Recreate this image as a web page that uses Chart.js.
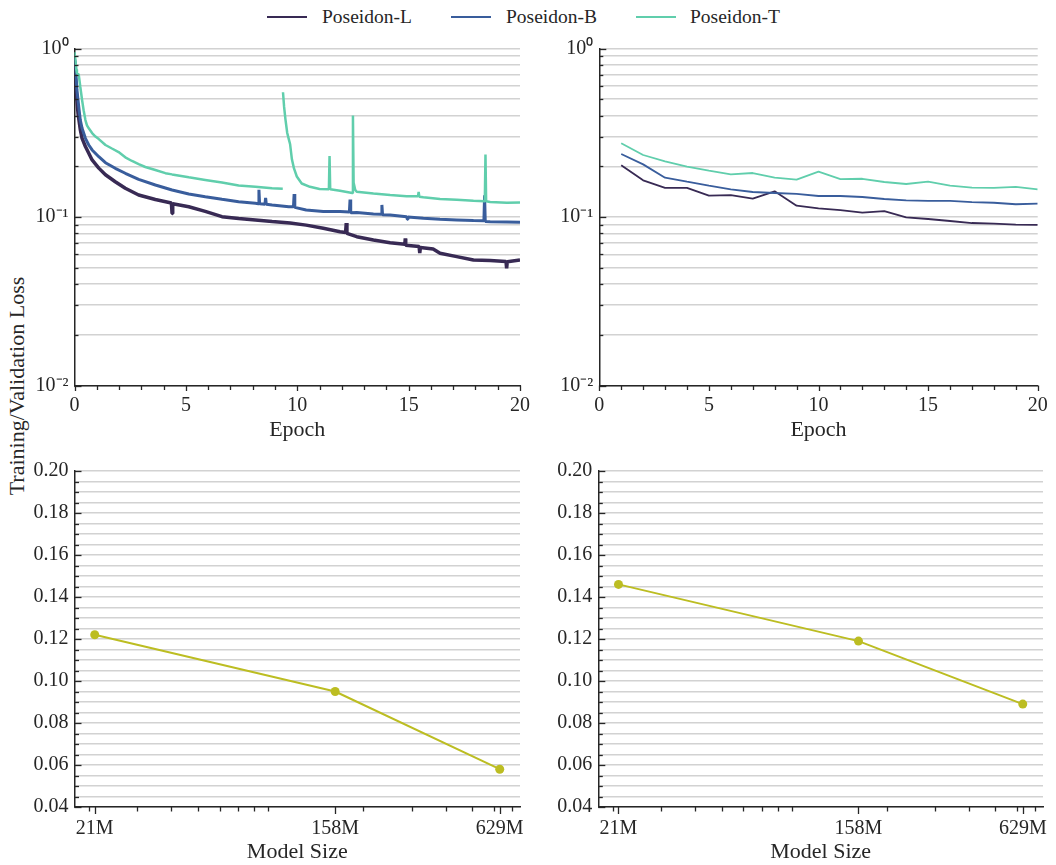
<!DOCTYPE html>
<html>
<head>
<meta charset="utf-8">
<script src="https://cdn.jsdelivr.net/npm/chart.js@4.4.1/dist/chart.umd.min.js"></script>
<style>
  html, body { margin:0; padding:0; background:#fff; }
  body { width:1056px; height:865px; position:relative; overflow:hidden;
         font-family:'Liberation Serif','Times New Roman',serif; color:#262626; }
  .box { position:absolute; }
  .sw { position:absolute; top:16px; height:2px; width:40px; }
  .lt { position:absolute; top:5px; font-size:19.5px; line-height:24px; white-space:nowrap; }
  #ylab { position:absolute; left:17px; top:386px; transform:translate(-50%,-50%) rotate(-90deg);
          font-size:22px; line-height:26px; white-space:nowrap; }
</style>
</head>
<body>
<div class="sw" style="left:267px;background:#382A54"></div><div class="lt" style="left:322px">Poseidon-L</div>
<div class="sw" style="left:451px;background:#395D9C"></div><div class="lt" style="left:506px">Poseidon-B</div>
<div class="sw" style="left:636px;background:#60CEAC"></div><div class="lt" style="left:690px">Poseidon-T</div>
<div id="ylab">Training/Validation Loss</div>

<div class="box" style="left:0;top:30px"><canvas id="c1" width="540" height="420" style="width:540px;height:420px"></canvas></div>
<div class="box" style="left:540px;top:30px"><canvas id="c2" width="516" height="420" style="width:516px;height:420px"></canvas></div>
<div class="box" style="left:0;top:450px"><canvas id="c3" width="540" height="415" style="width:540px;height:415px"></canvas></div>
<div class="box" style="left:540px;top:450px"><canvas id="c4" width="516" height="415" style="width:516px;height:415px"></canvas></div>

<script>
// ---------------- DATA ----------------
const seriesNames = ['Poseidon-L', 'Poseidon-B', 'Poseidon-T'];
const seriesColors = ['#382A54', '#395D9C', '#60CEAC'];

// Training loss (top-left), epoch positions and values
const trainEpochsL = [0, 0.07, 0.16, 0.26, 0.34, 0.49, 0.64, 0.79, 1.09, 1.39, 1.83, 2.28, 2.88, 3.63, 4.35, 4.38, 4.41, 5.13, 5.87, 6.62, 7.37, 8.12, 8.87, 9.68, 10.4, 11.17, 11.92, 12.17, 12.2, 12.23, 12.67, 13.42, 14.17, 14.83, 14.85, 14.87, 15.47, 15.5, 15.53, 16.1, 16.41, 17.16, 17.91, 18.66, 19.37, 19.4, 19.43, 20];
const trainLossL   = [0.78, 0.57, 0.41, 0.33, 0.293, 0.262, 0.239, 0.218, 0.195, 0.178, 0.162, 0.148, 0.135, 0.127, 0.121, 0.105, 0.12, 0.115, 0.108, 0.1004, 0.098, 0.096, 0.094, 0.092, 0.0895, 0.0857, 0.0818, 0.081, 0.092, 0.080, 0.0764, 0.073, 0.0704, 0.069, 0.0746, 0.068, 0.0668, 0.061, 0.066, 0.0645, 0.0609, 0.0582, 0.0556, 0.0551, 0.0545, 0.0496, 0.0543, 0.0556];

const trainEpochsB = [0, 0.04, 0.11, 0.19, 0.26, 0.34, 0.49, 0.64, 0.79, 1.09, 1.39, 1.83, 2.28, 2.88, 3.63, 4.38, 5.13, 5.87, 6.62, 7.37, 8.12, 8.25, 8.28, 8.31, 8.55, 8.58, 8.61, 8.87, 9.62, 9.83, 9.86, 9.89, 10.4, 11.17, 11.92, 12.34, 12.37, 12.4, 12.67, 13.42, 13.77, 13.8, 13.83, 14.17, 14.91, 14.94, 14.97, 15.66, 16.41, 17.16, 17.91, 18.38, 18.41, 18.44, 18.66, 19.41, 20];
const trainLossB   = [0.87, 0.817, 0.567, 0.452, 0.376, 0.336, 0.293, 0.2675, 0.25, 0.228, 0.21, 0.1945, 0.1818, 0.1674, 0.1549, 0.1446, 0.137, 0.132, 0.1273, 0.1233, 0.1206, 0.12, 0.145, 0.12, 0.119, 0.13, 0.119, 0.1178, 0.115, 0.115, 0.137, 0.114, 0.11, 0.1078, 0.1078, 0.107, 0.127, 0.106, 0.1062, 0.1042, 0.104, 0.118, 0.103, 0.1029, 0.1004, 0.097, 0.1, 0.0982, 0.0969, 0.0961, 0.0952, 0.095, 0.1345, 0.094, 0.0938, 0.0934, 0.093];

const trainEpochsT = [0, 0.04, 0.08, 0.11, 0.19, 0.26, 0.34, 0.41, 0.49, 0.56, 0.64, 0.79, 0.94, 1.09, 1.39, 1.68, 1.98, 2.28, 2.58, 2.88, 3.18, 3.63, 4.08, 4.38, 5.13, 5.87, 6.62, 7.37, 8.12, 8.87, 9.35, 9.355, 9.36, 9.41, 9.47, 9.55, 9.62, 9.68, 9.76, 9.85, 9.98, 10.2, 10.57, 11.0, 11.42, 11.45, 11.48, 11.92, 12.47, 12.5, 12.53, 12.6, 12.67, 13.42, 14.17, 14.91, 15.42, 15.45, 15.48, 15.66, 16.41, 17.16, 17.91, 18.42, 18.45, 18.48, 18.66, 19.41, 20];
const trainLossT   = [0.95, 0.855, 0.75, 0.713, 0.70, 0.593, 0.495, 0.43, 0.376, 0.35, 0.336, 0.315, 0.300, 0.29, 0.2675, 0.255, 0.243, 0.226, 0.215, 0.206, 0.198, 0.190, 0.182, 0.179, 0.172, 0.166, 0.160, 0.154, 0.151, 0.148, 0.147, null, 0.55, 0.45, 0.38, 0.315, 0.29, 0.27, 0.22, 0.195, 0.174, 0.158, 0.151, 0.1466, 0.146, 0.23, 0.146, 0.1432, 0.139, 0.40, 0.16, 0.145, 0.1413, 0.138, 0.135, 0.133, 0.133, 0.141, 0.132, 0.131, 0.128, 0.1266, 0.125, 0.124, 0.235, 0.124, 0.1227, 0.1214, 0.122];

// Validation loss (top-right)
const valEpochs = [1, 2, 3, 4, 5, 6, 7, 8, 9, 10, 11, 12, 13, 14, 15, 16, 17, 18, 19, 20];
const valLossL = [0.2025, 0.165, 0.1488, 0.1488, 0.1338, 0.135, 0.1285, 0.142, 0.1168, 0.1125, 0.110, 0.1062, 0.1085, 0.0996, 0.0973, 0.0947, 0.0921, 0.0914, 0.090, 0.0897];
const valLossB = [0.2365, 0.2053, 0.1712, 0.162, 0.1535, 0.146, 0.1407, 0.1388, 0.137, 0.1332, 0.1332, 0.1314, 0.1279, 0.1256, 0.1245, 0.1245, 0.1227, 0.1215, 0.119, 0.1201];
const valLossT = [0.2737, 0.2333, 0.214, 0.199, 0.1884, 0.179, 0.1824, 0.1712, 0.1665, 0.1858, 0.168, 0.1686, 0.1613, 0.157, 0.162, 0.1535, 0.1493, 0.1488, 0.1508, 0.146];

// Final loss vs model size (bottom)
const modelSizes = [21, 158, 629];
const finalTrainLoss = [0.122, 0.095, 0.058];
const finalValLoss = [0.146, 0.119, 0.089];
const scalingColor = '#BCBD22';

// Tick lists and tick labels
const logLossTicks = [0.01, 0.02, 0.03, 0.04, 0.05, 0.06, 0.07, 0.08, 0.09, 0.1, 0.2, 0.3, 0.4, 0.5, 0.6, 0.7, 0.8, 0.9, 1];
const logLossTickLabels = ['10\u207B\u00B2', '', '', '', '', '', '', '', '', '10\u207B\u00B9', '', '', '', '', '', '', '', '', '10\u2070'];
const epochTicks = [0, 1, 2, 3, 4, 5, 6, 7, 8, 9, 10, 11, 12, 13, 14, 15, 16, 17, 18, 19, 20];
const epochTickLabels = ['0', '', '', '', '', '5', '', '', '', '', '10', '', '', '', '', '15', '', '', '', '', '20'];
const sizeTicks = [20, 21, 30, 40, 50, 60, 70, 80, 90, 158, 200, 300, 400, 500, 600, 629, 700];
const sizeTickLabels = ['', '21M', '', '', '', '', '', '', '', '158M', '', '', '', '', '', '629M', ''];
const lossTicks = [0.04, 0.045, 0.05, 0.055, 0.06, 0.065, 0.07, 0.075, 0.08, 0.085, 0.09, 0.095, 0.1, 0.105, 0.11, 0.115, 0.12, 0.125, 0.13, 0.135, 0.14, 0.145, 0.15, 0.155, 0.16, 0.165, 0.17, 0.175, 0.18, 0.185, 0.19, 0.195, 0.2];
const lossTickLabels = ['0.04', '', '', '', '0.06', '', '', '', '0.08', '', '', '', '0.10', '', '', '', '0.12', '', '', '', '0.14', '', '', '', '0.16', '', '', '', '0.18', '', '', '', '0.20'];

// ---------------- STYLE / HELPERS ----------------
const FONT = "'Liberation Serif', 'Times New Roman', serif";
const TEXT = '#262626';
const GRID = '#d2d2d2';
Chart.defaults.font.family = FONT;
Chart.defaults.color = TEXT;

const pts = (xs, ys) => xs.map((x, i) => ({ x: x, y: ys[i] }));

const tickMarks = {
  id: 'tickMarks',
  afterDraw(chart, args, o) {
    const ctx = chart.ctx, xs = chart.scales.x, ys = chart.scales.y, a = chart.chartArea;
    ctx.save();
    ctx.strokeStyle = TEXT; ctx.lineWidth = 1.3;
    ys.ticks.forEach((t, i) => {
      const p = Math.round(ys.getPixelForValue(t.value)) + 0.5;
      const len = o.yLabels[i] ? o.yMajor : o.yMinor;
      ctx.beginPath(); ctx.moveTo(a.left, p); ctx.lineTo(a.left + len, p); ctx.stroke();
    });
    xs.ticks.forEach((t, i) => {
      const p = Math.round(xs.getPixelForValue(t.value)) + 0.5;
      const len = o.xLabels[i] ? o.xMajor : o.xMinor;
      ctx.beginPath(); ctx.moveTo(p, a.bottom); ctx.lineTo(p, a.bottom + len); ctx.stroke();
    });
    ctx.restore();
  }
};

function makeChart(id, g, datasets, xScale, yScale, marks) {
  return new Chart(document.getElementById(id), {
    type: 'line',
    data: { datasets: datasets },
    plugins: [tickMarks],
    options: {
      responsive: false, animation: false, events: [],
      layout: { padding: { top: g.padTop, right: g.padRight, bottom: 0, left: 0 } },
      elements: { line: { borderJoinStyle: 'bevel', tension: 0 } },
      plugins: { legend: { display: false }, tooltip: { enabled: false }, tickMarks: marks },
      scales: {
        x: Object.assign({
          position: 'bottom',
          grid: { display: false, drawTicks: false },
          border: { display: true, color: TEXT, width: 1.5 },
          afterFit: s => { s.height = g.xHeight; }
        }, xScale),
        y: Object.assign({
          position: 'left',
          grid: { display: true, color: GRID, lineWidth: 1.5, drawTicks: false },
          border: { display: true, color: TEXT, width: 1.5 },
          afterFit: s => { s.width = g.yWidth; }
        }, yScale)
      }
    }
  });
}

const tickFont = { family: FONT, size: 20 };
const titleFont = { family: FONT, size: 22 };

function logYAxis() {
  return {
    type: 'logarithmic', min: 0.01, max: 1,
    afterBuildTicks: s => { s.ticks = logLossTicks.map(v => ({ value: v })); },
    ticks: { autoSkip: false, padding: 6, font: tickFont, color: TEXT,
             callback: (v, i) => logLossTickLabels[i] }
  };
}
function epochXAxis() {
  return {
    type: 'linear', min: 0, max: 20,
    afterBuildTicks: s => { s.ticks = epochTicks.map(v => ({ value: v })); },
    ticks: { autoSkip: false, maxRotation: 0, minRotation: 0, padding: 8.3, font: tickFont, color: TEXT,
             callback: (v, i) => epochTickLabels[i] },
    title: { display: true, text: 'Epoch', font: titleFont, color: TEXT, padding: { top: 0, bottom: 6.3 } }
  };
}
function lossYAxis() {
  return {
    type: 'linear', min: 0.04, max: 0.2,
    afterBuildTicks: s => { s.ticks = lossTicks.map(v => ({ value: v })); },
    ticks: { autoSkip: false, padding: 6, font: tickFont, color: TEXT,
             callback: (v, i) => lossTickLabels[i] }
  };
}
function sizeXAxis() {
  return {
    type: 'logarithmic', min: 17.72, max: 745.6,
    afterBuildTicks: s => { s.ticks = sizeTicks.map(v => ({ value: v })); },
    ticks: { autoSkip: false, maxRotation: 0, minRotation: 0, padding: 9.5, font: tickFont, color: TEXT,
             callback: (v, i) => sizeTickLabels[i] },
    title: { display: true, text: 'Model Size', font: titleFont, color: TEXT, padding: { top: 0, bottom: 0 } }
  };
}

const topMarks = { yLabels: logLossTickLabels, xLabels: epochTickLabels, yMajor: 7, yMinor: 4, xMajor: 5.5, xMinor: 4.5 };
const botMarks = { yLabels: lossTickLabels, xLabels: sizeTickLabels, yMajor: 7, yMinor: 4.5, xMajor: 7, xMinor: 4.5 };

// ---------------- CHARTS ----------------
// Top-left: training loss
makeChart('c1', { padTop: 18.5, padRight: 20, xHeight: 64.5, yWidth: 74.5 }, [
  { label: seriesNames[2], data: pts(trainEpochsT, trainLossT), borderColor: seriesColors[2], borderWidth: 2.5, pointRadius: 0, spanGaps: false, order: 1 },
  { label: seriesNames[1], data: pts(trainEpochsB, trainLossB), borderColor: seriesColors[1], borderWidth: 3, pointRadius: 0, order: 2 },
  { label: seriesNames[0], data: pts(trainEpochsL, trainLossL), borderColor: seriesColors[0], borderWidth: 3.5, pointRadius: 0, order: 3 }
], epochXAxis(), logYAxis(), topMarks);

// Top-right: validation loss
makeChart('c2', { padTop: 18.5, padRight: 12.7, xHeight: 64.5, yWidth: 59.3 }, [
  { label: seriesNames[2], data: pts(valEpochs, valLossT), borderColor: seriesColors[2], borderWidth: 1.8, pointRadius: 0, order: 1 },
  { label: seriesNames[1], data: pts(valEpochs, valLossB), borderColor: seriesColors[1], borderWidth: 1.8, pointRadius: 0, order: 2 },
  { label: seriesNames[0], data: pts(valEpochs, valLossL), borderColor: seriesColors[0], borderWidth: 1.8, pointRadius: 0, order: 3 }
], epochXAxis(), logYAxis(), topMarks);

// Bottom-left: final training loss vs model size
makeChart('c3', { padTop: 21, padRight: 20, xHeight: 58, yWidth: 74.5 }, [
  { label: 'Training', data: pts(modelSizes, finalTrainLoss), borderColor: scalingColor, backgroundColor: scalingColor,
    borderWidth: 2, pointRadius: 4.5, pointBorderWidth: 0, pointBackgroundColor: scalingColor }
], sizeXAxis(), lossYAxis(), botMarks);

// Bottom-right: final validation loss vs model size
makeChart('c4', { padTop: 21, padRight: 13, xHeight: 58, yWidth: 58.3 }, [
  { label: 'Validation', data: pts(modelSizes, finalValLoss), borderColor: scalingColor, backgroundColor: scalingColor,
    borderWidth: 2, pointRadius: 4.5, pointBorderWidth: 0, pointBackgroundColor: scalingColor }
], sizeXAxis(), lossYAxis(), botMarks);
</script>
</body>
</html>
